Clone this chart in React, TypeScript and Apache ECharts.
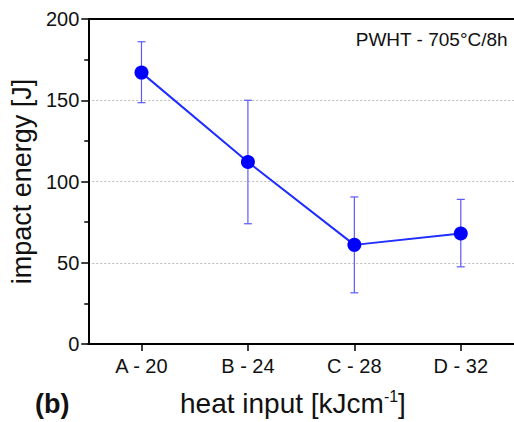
import React, { useEffect, useRef } from "react";
import * as echarts from "echarts";

const categories = ["A - 20", "B - 24", "C - 28", "D - 32"];
const energy = [167, 112, 61, 68];
const errLow = [148.5, 74, 31.5, 47.5];
const errHigh = [186, 150, 90.5, 89];
const yTicks = [0, 50, 100, 150, 200];

const FONT = "Liberation Sans, Arial, sans-serif";

export default function App() {
  const ref = useRef<HTMLDivElement>(null);
  useEffect(() => {
    if (!ref.current) return;
    const chart = echarts.init(ref.current, undefined, { renderer: "svg" });
    const errData = categories.map((_, i) => [i, errLow[i], errHigh[i]]);
    chart.setOption({
      animation: false,
      backgroundColor: "#ffffff",
      grid: { left: 88, top: 19, width: 433, height: 325, containLabel: false },
      xAxis: {
        type: "category",
        data: categories,
        boundaryGap: true,
        axisLine: { show: true, lineStyle: { color: "#000", width: 2 } },
        axisTick: { show: true, alignWithLabel: true, length: 7, lineStyle: { color: "#000", width: 1.5 } },
        axisLabel: { color: "#111", fontSize: 20, fontFamily: FONT, margin: 12 },
        splitLine: { show: false },
      },
      yAxis: {
        type: "value",
        min: 0,
        max: 200,
        interval: 50,
        axisLine: { show: true, lineStyle: { color: "#000", width: 2 } },
        axisTick: { show: true, inside: false, length: 7, lineStyle: { color: "#000", width: 1.5 } },
        minorTick: { show: true, splitNumber: 2, length: 4, lineStyle: { color: "#000", width: 1.5 } },
        axisLabel: {
          color: "#111",
          fontSize: 20,
          fontFamily: FONT,
          margin: 9,
          formatter: (v: number) => (yTicks.includes(v) ? String(v) : ""),
        },
        splitLine: {
          show: true,
          lineStyle: { color: "#bbbbbb", type: [2, 2], width: 1 },
        },
        name: "impact energy [J]",
        nameLocation: "middle",
        nameGap: 49,
        nameTextStyle: { color: "#111", fontSize: 27, fontFamily: FONT },
      },
      graphic: [
        {
          type: "line",
          shape: { x1: 88, y1: 19, x2: 514, y2: 19 },
          style: { stroke: "#000", lineWidth: 2 },
          z: 10,
        },
        {
          type: "text",
          right: 6,
          top: 30,
          style: { text: "PWHT - 705°C/8h", fontSize: 19, fontFamily: FONT, fill: "#111" },
        },
        {
          type: "text",
          left: 35,
          top: 390,
          style: { text: "(b)", fontSize: 27, fontWeight: "bold", fontFamily: FONT, fill: "#111" },
        },
        {
          type: "text",
          left: 180,
          top: 388,
          style: {
            text: "heat input [kJcm{sup|-1}]",
            fontSize: 28,
            fontFamily: FONT,
            fill: "#111",
            rich: {
              sup: { fontSize: 16, fontFamily: FONT, fill: "#111", verticalAlign: "top", padding: [0, 0, 14, 0] },
            },
          },
        },
      ],
      series: [
        {
          type: "custom",
          data: errData,
          z: 1,
          renderItem: (params: any, api: any) => {
            const x = api.value(0);
            const lo = api.coord([x, api.value(1)]);
            const hi = api.coord([x, api.value(2)]);
            const cap = 4;
            const style = { stroke: "#5a5aff", lineWidth: 1.2 };
            return {
              type: "group",
              children: [
                { type: "line", shape: { x1: lo[0], y1: lo[1], x2: hi[0], y2: hi[1] }, style },
                { type: "line", shape: { x1: lo[0] - cap, y1: lo[1], x2: lo[0] + cap, y2: lo[1] }, style },
                { type: "line", shape: { x1: hi[0] - cap, y1: hi[1], x2: hi[0] + cap, y2: hi[1] }, style },
              ],
            };
          },
        },
        {
          type: "line",
          data: energy,
          z: 3,
          symbol: "circle",
          symbolSize: 14,
          lineStyle: { color: "#1f2dff", width: 2 },
          itemStyle: { color: "#0000ff" },
        },
      ],
    });
    return () => chart.dispose();
  }, []);
  return (
    <div
      ref={ref}
      style={{ position: "fixed", left: 0, top: 0, width: 514, height: 422 }}
    />
  );
}
